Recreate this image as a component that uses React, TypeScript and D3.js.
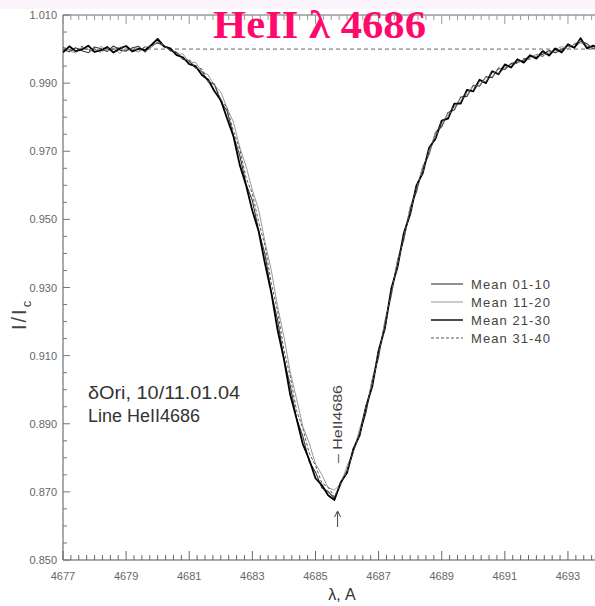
import React from "react";
import * as d3 from "d3";

const wavelengths = [
  4677.0, 4677.2, 4677.4, 4677.6, 4677.8, 4678.0, 4678.2, 4678.4, 4678.6, 4678.8,
  4679.0, 4679.2, 4679.4, 4679.6, 4679.8, 4680.0, 4680.2, 4680.4, 4680.6, 4680.8,
  4681.0, 4681.2, 4681.4, 4681.6, 4681.8, 4682.0, 4682.2, 4682.4, 4682.6, 4682.8,
  4683.0, 4683.2, 4683.4, 4683.6, 4683.8, 4684.0, 4684.2, 4684.4, 4684.6, 4684.8,
  4685.0, 4685.2, 4685.4, 4685.6, 4685.8, 4686.0, 4686.2, 4686.4, 4686.6, 4686.8,
  4687.0, 4687.2, 4687.4, 4687.6, 4687.8, 4688.0, 4688.2, 4688.4, 4688.6, 4688.8,
  4689.0, 4689.2, 4689.4, 4689.6, 4689.8, 4690.0, 4690.2, 4690.4, 4690.6, 4690.8,
  4691.0, 4691.2, 4691.4, 4691.6, 4691.8, 4692.0, 4692.2, 4692.4, 4692.6, 4692.8,
  4693.0, 4693.2, 4693.4, 4693.6, 4693.8, 4694.0,
];

const mean0110 = [
  0.9998, 0.9992, 1.0004, 0.9995, 0.9989, 1.0006, 1.0001, 0.9993, 1.0009, 0.9997,
  0.9994, 1.0004, 1.0008, 0.9991, 1.0011, 1.0018, 1.0010, 0.9996, 0.9990, 0.9970,
  0.9965, 0.9944, 0.9934, 0.9904, 0.9896, 0.9846, 0.9818, 0.9746, 0.9688, 0.9604,
  0.9555, 0.9466, 0.9398, 0.9286, 0.9204, 0.9091, 0.9012, 0.8916, 0.8863, 0.8789,
  0.8758, 0.8712, 0.8701, 0.8682, 0.8722, 0.8762, 0.8818, 0.8872, 0.8932, 0.9029,
  0.9096, 0.9199, 0.9276, 0.9379, 0.9441, 0.9534, 0.9581, 0.9654, 0.9691, 0.9754,
  0.9772, 0.9814, 0.9821, 0.9859, 0.9861, 0.9894, 0.9891, 0.9919, 0.9916, 0.9944,
  0.9940, 0.9958, 0.9961, 0.9968, 0.9980, 0.9976, 0.9985, 0.9996, 0.9989, 0.9998,
  1.0010, 1.0004, 1.0022, 1.0016, 1.0000, 1.0005,
];

const mean1120 = [
  1.0003, 0.9996, 0.9988, 1.0005, 0.9999, 0.9991, 1.0008, 0.9996, 1.0002, 0.9987,
  1.0004, 0.9999, 0.9991, 1.0006, 1.0004, 1.0024, 1.0006, 1.0001, 0.9984, 0.9986,
  0.9960, 0.9961, 0.9934, 0.9924, 0.9892, 0.9874, 0.9826, 0.9786, 0.9712, 0.9656,
  0.9586, 0.9528, 0.9434, 0.9351, 0.9244, 0.9156, 0.9052, 0.8974, 0.8892, 0.8844,
  0.8782, 0.8751, 0.8712, 0.8706, 0.8722, 0.8776, 0.8816, 0.8886, 0.8942, 0.9031,
  0.9104, 0.9201, 0.9284, 0.9381, 0.9449, 0.9536, 0.9589, 0.9656, 0.9694, 0.9756,
  0.9779, 0.9811, 0.9829, 0.9856, 0.9866, 0.9891, 0.9894, 0.9918, 0.9919, 0.9941,
  0.9947, 0.9950, 0.9966, 0.9962, 0.9975, 0.9984, 0.9980, 0.9988, 0.9999, 1.0007,
  1.0001, 1.0014, 1.0018, 1.0009, 1.0006, 0.9998,
];

const mean2130 = [
  0.9990, 1.0008, 0.9994, 0.9999, 1.0010, 0.9992, 0.9996, 1.0006, 0.9990, 1.0002,
  1.0009, 0.9993, 1.0001, 0.9997, 1.0012, 1.0030, 1.0008, 1.0002, 0.9982, 0.9976,
  0.9956, 0.9950, 0.9924, 0.9910, 0.9876, 0.9850, 0.9796, 0.9744, 0.9660, 0.9600,
  0.9525, 0.9465, 0.9370, 0.9285, 0.9175, 0.9090, 0.8985, 0.8915, 0.8840, 0.8795,
  0.8740, 0.8720, 0.8690, 0.8676, 0.8728, 0.8756, 0.8826, 0.8866, 0.8950, 0.9010,
  0.9115, 0.9180, 0.9296, 0.9360, 0.9460, 0.9515, 0.9600, 0.9636, 0.9710, 0.9736,
  0.9790, 0.9796, 0.9840, 0.9840, 0.9880, 0.9876, 0.9910, 0.9900, 0.9935, 0.9926,
  0.9955, 0.9946, 0.9970, 0.9960, 0.9982, 0.9972, 0.9994, 0.9981, 1.0002, 0.9990,
  1.0014, 1.0004, 1.0032, 1.0002, 1.0010, 1.0001,
];

const mean3140 = [
  1.0005, 0.9999, 0.9993, 1.0009, 0.9996, 1.0001, 0.9990, 1.0003, 0.9999, 1.0007,
  0.9996, 1.0002, 0.9995, 1.0007, 1.0008, 1.0020, 1.0012, 0.9994, 0.9992, 0.9969,
  0.9970, 0.9944, 0.9942, 0.9906, 0.9898, 0.9852, 0.9828, 0.9759, 0.9706, 0.9622,
  0.9576, 0.9491, 0.9424, 0.9312, 0.9231, 0.9116, 0.9039, 0.8939, 0.8886, 0.8814,
  0.8778, 0.8726, 0.8714, 0.8686, 0.8726, 0.8759, 0.8821, 0.8869, 0.8951, 0.9014,
  0.9111, 0.9184, 0.9291, 0.9364, 0.9456, 0.9519, 0.9596, 0.9639, 0.9706, 0.9739,
  0.9786, 0.9800, 0.9836, 0.9844, 0.9876, 0.9879, 0.9906, 0.9904, 0.9931, 0.9929,
  0.9944, 0.9956, 0.9958, 0.9972, 0.9970, 0.9983, 0.9978, 0.9992, 0.9995, 1.0000,
  1.0006, 1.0015, 1.0026, 1.0008, 1.0004, 1.0010,
];

const seriesNames = ["Mean 01-10", "Mean 11-20", "Mean 21-30", "Mean 31-40"];
const xTickLabels = [4677, 4679, 4681, 4683, 4685, 4687, 4689, 4691, 4693];
const yTickLabels = [0.85, 0.87, 0.89, 0.91, 0.93, 0.95, 0.97, 0.99, 1.01];
const continuumLevel = 1.0;
const lineCentre = 4685.7;

const W = 595;
const H = 606;
const left = 63;
const top = 15;
const bottom = 560;

const styles = [
  { stroke: "#3a3a3a", width: 1.1, dash: "" },
  { stroke: "#999999", width: 1, dash: "" },
  { stroke: "#000000", width: 1.8, dash: "" },
  { stroke: "#555555", width: 1, dash: "3,2" },
];

export default function App() {
  const x = d3.scaleLinear().domain([4677, 4694]).range([left, left + 17 * 31.56]);
  const y = d3.scaleLinear().domain([0.85, 1.01]).range([bottom, top]);
  const allSeries = [mean0110, mean1120, mean2130, mean3140];
  const line = d3
    .line<[number, number]>()
    .x((d) => x(d[0]))
    .y((d) => y(d[1]));

  const xTicks = d3.range(0, 17 * 4 + 1).map((i) => 4677 + i * 0.25);
  const yTicks = d3.range(0, 33).map((i) => 0.85 + i * 0.005);
  const tickFont = "'Liberation Sans', Arial, sans-serif";

  return (
    <svg
      width={W}
      height={H}
      style={{ position: "absolute", left: 0, top: 0, background: "#fff" }}
    >
      <rect x={0} y={0} width={W} height={H} fill="#ffffff" />
      <rect x={0} y={0} width={W} height={9} fill="#fcf4fb" />
      <defs>
        <clipPath id="plot">
          <rect x={left} y={top} width={W - left} height={bottom - top} />
        </clipPath>
      </defs>

      {/* axes frame */}
      <line x1={left} y1={top} x2={W} y2={top} stroke="#666" strokeWidth={1} />
      <line x1={left} y1={bottom} x2={W} y2={bottom} stroke="#555" strokeWidth={1} />
      <line x1={left} y1={top} x2={left} y2={bottom} stroke="#555" strokeWidth={1} />

      {/* x ticks (bottom & top) */}
      {xTicks.map((t, i) => {
        const major = i % 8 === 0;
        const len = major ? 9 : 5;
        const px = x(t);
        if (px > W) return null;
        return (
          <g key={"xt" + i}>
            <line x1={px} x2={px} y1={bottom} y2={bottom - len} stroke="#666" strokeWidth={1} />
            <line x1={px} x2={px} y1={top} y2={top + len} stroke="#999" strokeWidth={1} />
          </g>
        );
      })}
      {/* y ticks */}
      {yTicks.map((t, i) => {
        const major = i % 4 === 0;
        const len = major ? 7 : 4;
        return (
          <line
            key={"yt" + i}
            x1={left}
            x2={left + len}
            y1={y(t)}
            y2={y(t)}
            stroke="#777"
            strokeWidth={1}
          />
        );
      })}

      {xTickLabels.map((t) => (
        <text
          key={"xl" + t}
          x={x(t)}
          y={580}
          textAnchor="middle"
          fontSize={11}
          fill="#666"
          fontFamily={tickFont}
        >
          {t}
        </text>
      ))}
      {yTickLabels.map((t) => (
        <text
          key={"yl" + t}
          x={57}
          y={y(t) + 4}
          textAnchor="end"
          fontSize={11}
          fill="#666"
          fontFamily={tickFont}
        >
          {t.toFixed(3)}
        </text>
      ))}

      {/* continuum */}
      <line
        x1={left}
        x2={W}
        y1={y(continuumLevel)}
        y2={y(continuumLevel)}
        stroke="#666"
        strokeWidth={1}
        strokeDasharray="4,3"
      />

      {/* spectra */}
      <g clipPath="url(#plot)">
        {allSeries.map((s, k) => (
          <path
            key={"s" + k}
            d={line(wavelengths.map((w, i) => [w, s[i]] as [number, number])) || ""}
            fill="none"
            stroke={styles[k].stroke}
            strokeWidth={styles[k].width}
            strokeDasharray={styles[k].dash}
            strokeLinejoin="round"
          />
        ))}
      </g>

      {/* legend */}
      {seriesNames.map((n, k) => {
        const ly = [284, 302, 320, 338][k];
        return (
          <g key={"lg" + k}>
            <line
              x1={431}
              x2={463}
              y1={ly}
              y2={ly}
              stroke={styles[k].stroke}
              strokeWidth={Math.min(styles[k].width, 1.4)}
              strokeDasharray={styles[k].dash}
            />
            <text
              x={471}
              y={ly + 5}
              fontSize={13}
              fill="#444"
              fontFamily={tickFont}
              textLength={79}
              lengthAdjust="spacing"
            >
              {n}
            </text>
          </g>
        );
      })}

      {/* annotations */}
      <text x={88} y={399} fontSize={18} fill="#333" fontFamily={tickFont} textLength={152} lengthAdjust="spacingAndGlyphs">
        δOri, 10/11.01.04
      </text>
      <text x={88} y={422} fontSize={18} fill="#333" fontFamily={tickFont} textLength={112} lengthAdjust="spacingAndGlyphs">
        Line  HeII4686
      </text>
      <text
        transform={`translate(${x(lineCentre) + 4}, 463) rotate(-90)`}
        fontSize={12}
        fill="#444"
        fontFamily={tickFont}
        textLength={78}
        lengthAdjust="spacingAndGlyphs"
      >
        – HeII4686
      </text>
      <g stroke="#444" strokeWidth={1} fill="none">
        <line x1={x(lineCentre)} x2={x(lineCentre)} y1={527} y2={512} />
        <path d={`M${x(lineCentre) - 3},${517} L${x(lineCentre)},${511} L${x(lineCentre) + 3},${517}`} />
      </g>

      {/* axis titles */}
      <text x={342} y={600} textAnchor="middle" fontSize={16} fill="#333" fontFamily={tickFont}>
        λ, A
      </text>
      <text
        transform="translate(26, 330) rotate(-90)"
        fontSize={20}
        fill="#444"
        fontFamily={tickFont}
        letterSpacing={2}
      >
        I/I
        <tspan fontSize={13} dy={5}>c</tspan>
      </text>

      {/* title */}
      <text
        x={213}
        y={38}
        fontSize={40}
        fontWeight="bold"
        fill="#ff0a6c"
        fontFamily="'Liberation Serif', 'Times New Roman', serif"
        textLength={213}
        lengthAdjust="spacingAndGlyphs"
      >
        HeII λ 4686
      </text>
    </svg>
  );
}
